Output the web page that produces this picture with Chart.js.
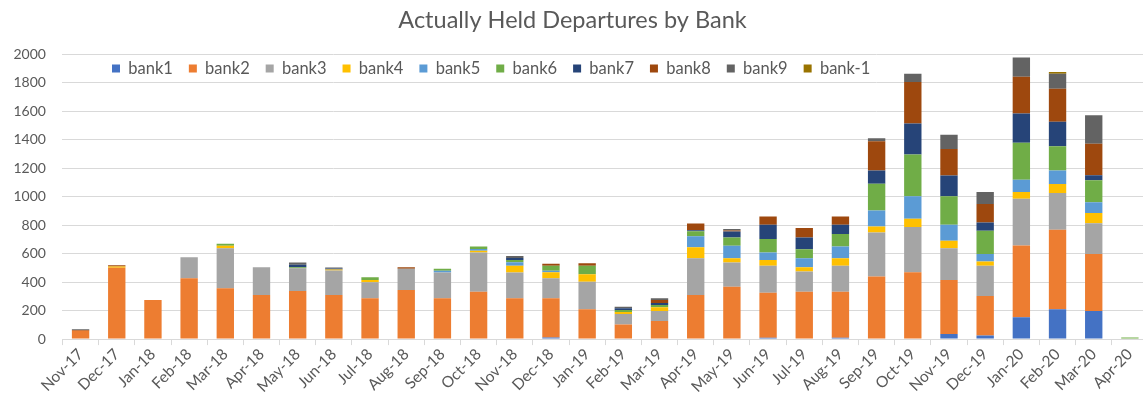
<!DOCTYPE html>
<html lang="en">
  <head>
    <meta charset="UTF-8" />
    <title>Actually Held Departures by Bank</title>
    <script src="https://cdn.jsdelivr.net/npm/chart.js"></script>
    <style>
      html,
      body {
        margin: 0;
        padding: 0;
        overflow: hidden;
        background: #fff;
      }
      .chart-box {
        width: 1150px;
        height: 404px;
      }
    </style>
  </head>
  <body>
    <div class="chart-box">
      <canvas id="myChart"></canvas>
    </div>
    <script>
      const months = [
        "Nov-17", "Dec-17", "Jan-18", "Feb-18", "Mar-18", "Apr-18", "May-18", "Jun-18",
        "Jul-18", "Aug-18", "Sep-18", "Oct-18", "Nov-18", "Dec-18", "Jan-19", "Feb-19",
        "Mar-19", "Apr-19", "May-19", "Jun-19", "Jul-19", "Aug-19", "Sep-19", "Oct-19",
        "Nov-19", "Dec-19", "Jan-20", "Feb-20", "Mar-20", "Apr-20",
      ];
      const yTicks = [0, 200, 400, 600, 800, 1000, 1200, 1400, 1600, 1800, 2000];

      // values, one array per bank
      const bank1 = [0, 0, 0, 0, 0, 0, 0, 0, 0, 0, 0, 0, 0, 12, 0, 0, 0, 0, 0, 10, 0, 10, 0, 0, 35, 26, 153, 209, 197, 0];
      const bank2 = [58, 500, 275, 427, 357, 310, 338, 310, 286, 345, 286, 333, 286, 274, 209, 103, 127, 310, 368, 316, 333, 323, 439, 469, 380, 277, 504, 558, 401, 0];
      const bank3 = [0, 0, 0, 148, 281, 195, 159, 171, 113, 148, 181, 275, 181, 141, 194, 73, 70, 258, 169, 188, 141, 181, 309, 317, 223, 211, 329, 259, 216, 0];
      const bank4 = [0, 10, 0, 0, 17, 0, 0, 8, 16, 0, 0, 12, 47, 42, 52, 14, 26, 76, 31, 42, 31, 54, 43, 59, 52, 30, 47, 63, 71, 0];
      const bank5 = [0, 0, 0, 0, 0, 0, 0, 0, 0, 0, 12, 12, 25, 10, 0, 0, 0, 78, 87, 52, 63, 82, 112, 157, 113, 54, 86, 94, 75, 0];
      const bank6 = [0, 0, 0, 0, 14, 0, 8, 0, 19, 0, 14, 18, 17, 35, 59, 14, 16, 35, 58, 94, 63, 87, 188, 293, 199, 162, 259, 171, 155, 12];
      const bank7 = [0, 0, 0, 0, 0, 0, 17, 7, 0, 0, 0, 0, 14, 0, 0, 12, 15, 7, 42, 101, 82, 66, 92, 219, 146, 59, 206, 171, 35, 0];
      const bank8 = [6, 8, 0, 0, 0, 0, 0, 0, 0, 12, 0, 0, 0, 14, 19, 0, 20, 48, 8, 58, 66, 58, 206, 290, 187, 129, 258, 233, 221, 0];
      const bank9 = [5, 0, 0, 0, 0, 0, 15, 6, 0, 0, 0, 0, 14, 0, 0, 11, 12, 0, 9, 0, 0, 0, 21, 59, 99, 85, 134, 105, 201, 0];
      const bankMinus1 = [0, 0, 0, 0, 0, 0, 0, 0, 0, 0, 0, 0, 0, 0, 0, 0, 0, 0, 0, 0, 0, 0, 0, 0, 0, 0, 0, 12, 0, 0];

      const seriesNames = ["bank1", "bank2", "bank3", "bank4", "bank5", "bank6", "bank7", "bank8", "bank9", "bank-1"];
      const seriesData = [bank1, bank2, bank3, bank4, bank5, bank6, bank7, bank8, bank9, bankMinus1];
      const seriesColors = [
        "#4472C4", "#ED7D31", "#A5A5A5", "#FFC000", "#5B9BD5",
        "#70AD47", "#264478", "#9E480E", "#636363", "#997300",
      ];

      const textColor = "#595959";
      const gridColor = "#d9d9d9";
      Chart.defaults.font.family = "Lato, 'Open Sans', sans-serif";
      Chart.defaults.color = textColor;

      // legend sits inside the plot, between the 2000 and 1800 lines
      const legendInPlot = {
        id: "legendInPlot",
        beforeLayout(chart) {
          const lg = chart.legend;
          if (!lg || lg._inPlot) return;
          const fit = lg.fit.bind(lg);
          lg.fit = function () {
            fit();
            this._realHeight = this.height;
            this.height = 0;
          };
          lg._inPlot = true;
        },
        afterLayout(chart) {
          const lg = chart.legend;
          if (!lg) return;
          lg.top = chart.chartArea.top - 10;
          lg.height = lg._realHeight;
          lg.bottom = lg.top + lg.height;
          lg.left = 96;
          lg.width = lg.right - lg.left;
        },
      };

      const ctx = document.getElementById("myChart");
      const myChart = new Chart(ctx, {
        type: "bar",
        data: {
          labels: months,
          datasets: seriesNames.map(function (name, i) {
            return {
              label: name,
              data: seriesData[i],
              backgroundColor: seriesColors[i],
              borderWidth: 0,
              barPercentage: 0.48,
              categoryPercentage: 1,
            };
          }),
        },
        options: {
          responsive: true,
          maintainAspectRatio: false,
          animation: false,
          layout: {
            padding: { left: -3, right: 2, top: 0, bottom: 8 },
          },
          scales: {
            x: {
              stacked: true,
              grid: {
                drawOnChartArea: false,
                drawTicks: true,
                tickLength: 6,
                color: gridColor,
              },
              border: { color: gridColor },
              ticks: {
                color: textColor,
                font: { size: 15.5 },
                minRotation: 45,
                maxRotation: 45,
                autoSkip: false,
                padding: 0,
              },
            },
            y: {
              stacked: true,
              min: yTicks[0],
              max: yTicks[yTicks.length - 1],
              afterBuildTicks(axis) {
                axis.ticks = yTicks.map(function (v) {
                  return { value: v };
                });
              },
              grid: { color: gridColor, drawTicks: false },
              border: { display: false },
              ticks: {
                color: textColor,
                font: { size: 14 },
                padding: 16.5,
                callback: function (value) {
                  return String(value);
                },
              },
            },
          },
          plugins: {
            title: {
              display: true,
              text: "Actually Held Departures by Bank",
              color: textColor,
              font: { size: 23.5, weight: "normal" },
              padding: { top: 6, bottom: 20 },
            },
            legend: {
              position: "top",
              align: "start",
              labels: {
                boxWidth: 8,
                boxHeight: 8,
                padding: 16,
                color: textColor,
                font: { size: 16.5 },
              },
            },
            tooltip: { enabled: false },
          },
        },
        plugins: [legendInPlot],
      });
    </script>
  </body>
</html>
